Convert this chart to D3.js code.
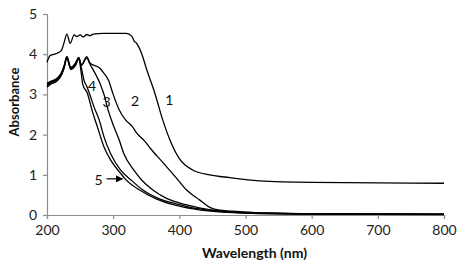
<!DOCTYPE html>
<html>
<head>
<meta charset="utf-8">
<script src="https://cdn.jsdelivr.net/npm/d3@7"></script>
<style>
  body { margin: 0; background: #fff; }
  text { font-family: Lato, "DejaVu Sans", sans-serif; }
</style>
</head>
<body>
<div id="chart"></div>
<script>
// wavelength (nm) / absorbance for each sample
var wl1 = [200, 205, 215, 222, 226, 230, 235, 241, 245, 250, 255, 260, 265, 270, 285, 320, 328, 332, 335, 343, 351, 363, 375, 388, 400, 420, 446, 476, 520, 600, 700, 800];
var abs1 = [3.80, 3.97, 4.02, 4.10, 4.30, 4.50, 4.27, 4.48, 4.44, 4.48, 4.43, 4.49, 4.46, 4.50, 4.52, 4.52, 4.45, 4.32, 4.28, 4.02, 3.60, 3.03, 2.36, 1.78, 1.40, 1.12, 1.00, 0.93, 0.85, 0.81, 0.80, 0.79];

var wl2 = [200, 205, 215, 222, 226, 230, 236, 243, 248, 252, 260, 265, 280, 285, 293, 300, 309, 319, 329, 336, 347, 356, 376, 396, 411, 431, 446, 461, 496, 537, 600, 800];
var abs2 = [3.28, 3.32, 3.40, 3.55, 3.72, 3.94, 3.67, 3.78, 3.92, 3.73, 3.94, 3.78, 3.65, 3.55, 3.35, 3.00, 2.62, 2.36, 2.20, 2.03, 1.85, 1.66, 1.29, 0.91, 0.62, 0.37, 0.19, 0.12, 0.08, 0.05, 0.03, 0.02];

var wl3 = [200, 205, 215, 222, 226, 230, 236, 243, 248, 252, 260, 265, 275, 280, 284, 287, 291, 301, 309, 316, 331, 343, 360, 380, 400, 430, 460, 500, 600, 800];
var abs3 = [3.25, 3.30, 3.37, 3.52, 3.70, 3.93, 3.66, 3.77, 3.91, 3.72, 3.90, 3.75, 3.45, 3.28, 3.10, 2.95, 2.69, 2.20, 1.87, 1.53, 1.12, 0.87, 0.62, 0.42, 0.30, 0.18, 0.10, 0.06, 0.03, 0.02];

var wl4 = [200, 205, 215, 222, 226, 230, 236, 243, 248, 252, 256, 260, 264, 271, 279, 286, 296, 311, 327, 345, 370, 400, 430, 460, 500, 600, 800];
var abs4 = [3.22, 3.28, 3.35, 3.50, 3.68, 3.92, 3.64, 3.74, 3.90, 3.65, 3.35, 3.20, 3.03, 2.69, 2.36, 1.95, 1.53, 1.12, 0.87, 0.62, 0.40, 0.26, 0.15, 0.09, 0.05, 0.03, 0.02];

var wl5 = [200, 205, 215, 222, 226, 230, 236, 243, 248, 252, 254, 261, 268, 276, 286, 296, 311, 318, 340, 365, 400, 430, 460, 500, 600, 800];
var abs5 = [3.18, 3.25, 3.33, 3.48, 3.66, 3.90, 3.62, 3.72, 3.88, 3.50, 3.25, 3.03, 2.61, 2.20, 1.70, 1.37, 1.04, 0.90, 0.62, 0.40, 0.22, 0.13, 0.08, 0.05, 0.02, 0.01];

var xTicks = [200, 300, 400, 500, 600, 700, 800];
var yTicks = [0, 1, 2, 3, 4, 5];

// curve labels: [text, wavelength, absorbance]
var curveLabels = [["1", 385, 2.87], ["2", 333, 2.85], ["3", 290, 2.82], ["4", 268, 3.22], ["5", 278, 0.88]];

var W = 464, H = 271;
var margin = { top: 14, right: 20, bottom: 56, left: 47 };

var svg = d3.select("#chart").append("svg")
    .attr("width", W)
    .attr("height", H);

var x = d3.scaleLinear().domain([200, 800]).range([margin.left, W - margin.right]);
var y = d3.scaleLinear().domain([0, 5]).range([H - margin.bottom, margin.top]);

var axisColor = "#8c8c8c";

// x axis
var gx = svg.append("g")
    .attr("transform", "translate(0," + y(0) + ")")
    .call(d3.axisBottom(x).tickValues(xTicks).tickSize(4).tickPadding(6).tickFormat(d3.format("d")));
// y axis
var gy = svg.append("g")
    .attr("transform", "translate(" + x(200) + ",0)")
    .call(d3.axisLeft(y).tickValues(yTicks).tickSize(4).tickPadding(6).tickFormat(d3.format("d")));

[gx, gy].forEach(function (g) {
  g.select(".domain").attr("stroke", axisColor).attr("stroke-width", 1.2);
  g.selectAll(".tick line").attr("stroke", axisColor).attr("stroke-width", 1.2);
  g.selectAll(".tick text")
    .attr("fill", "#222")
    .style("font-family", "Lato, 'DejaVu Sans', sans-serif")
    .style("font-size", "14px");
});

var line = d3.line()
    .x(function (d) { return x(d[0]); })
    .y(function (d) { return y(d[1]); })
    .curve(d3.curveMonotoneX);

var series = [[wl1, abs1], [wl2, abs2], [wl3, abs3], [wl4, abs4], [wl5, abs5]];
series.forEach(function (s) {
  var pts = d3.zip(s[0], s[1]);
  svg.append("path")
    .datum(pts)
    .attr("d", line)
    .attr("fill", "none")
    .attr("stroke", "#000")
    .attr("stroke-width", 1.3);
});

// curve numbers
curveLabels.forEach(function (l) {
  svg.append("text")
    .attr("x", x(l[1]))
    .attr("y", y(l[2]))
    .attr("text-anchor", "middle")
    .attr("dominant-baseline", "central")
    .style("font-size", "14px")
    .attr("fill", "#111")
    .text(l[0]);
});

// arrow from label 5 to its curve
svg.append("defs").append("marker")
    .attr("id", "arr")
    .attr("viewBox", "0 0 10 10")
    .attr("refX", 9).attr("refY", 5)
    .attr("markerWidth", 6).attr("markerHeight", 6)
    .attr("orient", "auto")
  .append("path")
    .attr("d", "M0,0L10,5L0,10z")
    .attr("fill", "#000");

svg.append("line")
    .attr("x1", x(290)).attr("y1", y(0.9))
    .attr("x2", x(314)).attr("y2", y(0.9))
    .attr("stroke", "#000")
    .attr("stroke-width", 1.2)
    .attr("marker-end", "url(#arr)");

// axis titles
svg.append("text")
    .attr("x", (x(200) + x(800)) / 2 + 9)
    .attr("y", 258)
    .attr("text-anchor", "middle")
    .style("font-size", "14px")
    .style("font-weight", "bold")
    .attr("fill", "#111")
    .text("Wavelength (nm)");

svg.append("text")
    .attr("transform", "translate(19," + 102 + ") rotate(-90)")
    .attr("text-anchor", "middle")
    .style("font-size", "13px")
    .style("font-weight", "bold")
    .attr("fill", "#111")
    .text("Absorbance");
</script>
</body>
</html>
